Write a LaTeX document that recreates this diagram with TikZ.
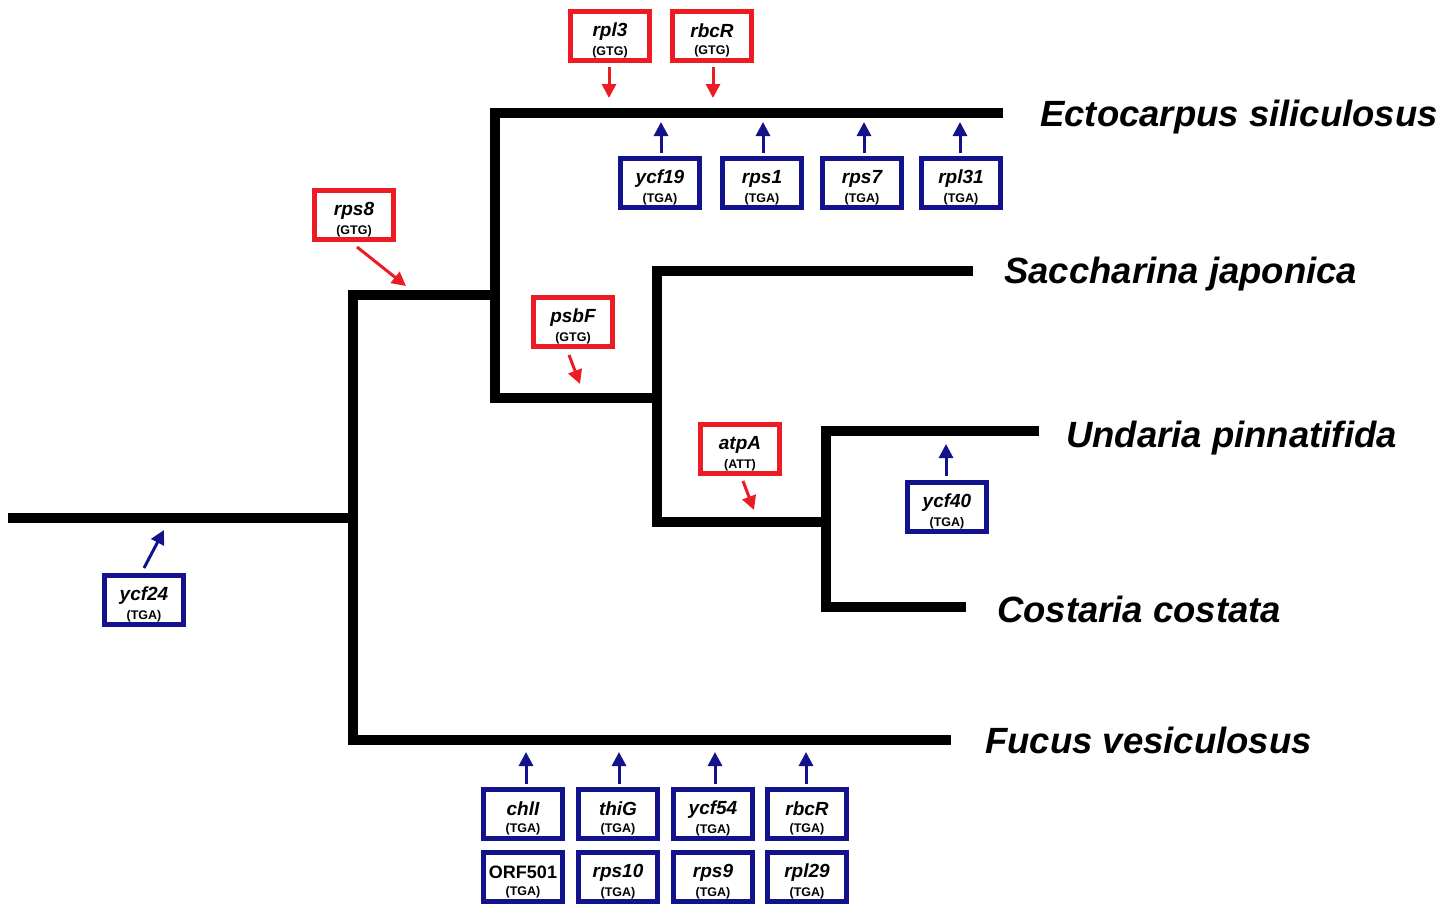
\documentclass[tikz,border=0pt]{standalone}
\usepackage{fontspec}
\setmainfont{Liberation Sans}
\usetikzlibrary{arrows.meta}
\definecolor{gred}{RGB}{237,28,36}
\definecolor{gblue}{RGB}{18,18,140}
\newcommand{\gn}[2]{{\fontsize{19}{18}\selectfont\bfseries\itshape\rule{0pt}{22.5pt}#1}\\[5.5pt]{\fontsize{12.5}{12}\selectfont\bfseries(#2)}}
\newcommand{\gnu}[2]{{\fontsize{18}{18}\selectfont\bfseries\rule{0pt}{22.5pt}#1}\\[5.5pt]{\fontsize{12.5}{12}\selectfont\bfseries(#2)}}
\begin{document}
\begin{tikzpicture}[x=1pt,y=-1pt,
  genebox/.style={draw, line width=4.5pt, minimum width=79pt, minimum height=49pt, inner sep=0pt, align=center, fill=white},
  redbox/.style={genebox, draw=gred},
  bluebox/.style={genebox, draw=gblue},
  branch/.style={line width=10pt, line join=miter},
  redarrow/.style={draw=gred, line width=3pt, -{Triangle[width=14pt,length=14pt]}},
  bluearrow/.style={draw=gblue, line width=3pt, -{Triangle[width=14pt,length=14pt]}},
  species/.style={font=\fontsize{36.5}{40}\selectfont\bfseries\itshape, anchor=base west, inner sep=0pt}]
\useasboundingbox (0,0) rectangle (1456,903);
% tree coordinates
\coordinate (r0) at (8,518);
\coordinate (r1) at (353,518);
\coordinate (a1) at (353,295);
\coordinate (a2) at (495,295);
\coordinate (a3) at (353,740);
\coordinate (fuc) at (951,740);
\coordinate (b1) at (495,113);
\coordinate (ect) at (1003,113);
\coordinate (b2) at (495,398);
\coordinate (b3) at (657,398);
\coordinate (c1) at (657,271);
\coordinate (sac) at (973,271);
\coordinate (c2) at (657,522);
\coordinate (c3) at (826,522);
\coordinate (d1) at (826,431);
\coordinate (und) at (1039,431);
\coordinate (d2) at (826,607);
\coordinate (cos) at (966,607);
\draw[branch] (r0) -- (r1);
\draw[branch] (a2) -- (a1) -- (a3) -- (fuc);
\draw[branch] (ect) -- (b1) -- (b2) -- (b3);
\draw[branch] (sac) -- (c1) -- (c2) -- (c3);
\draw[branch] (und) -- (d1) -- (d2) -- (cos);
% species
\node[species] (tEct) at (1040,126) {Ectocarpus siliculosus};
\node[species] (tSac) at (1004,283) {Saccharina japonica};
\node[species] (tUnd) at (1066,447) {Undaria pinnatifida};
\node[species] (tCos) at (997,622) {Costaria costata};
\node[species] (tFuc) at (985,753) {Fucus vesiculosus};
% red boxes
\node[redbox] (rpl3) at (610,36) {\gn{rpl3}{GTG}};
\node[redbox] (rbcRt) at (712,36) {\gn{rbcR}{GTG}};
\node[redbox] (rps8) at (354,215) {\gn{rps8}{GTG}};
\node[redbox] (psbF) at (573,322) {\gn{psbF}{GTG}};
\node[redbox] (atpA) at (740,449) {\gn{atpA}{ATT}};
% blue boxes
\node[bluebox] (ycf19) at (660,183) {\gn{ycf19}{TGA}};
\node[bluebox] (rps1) at (762,183) {\gn{rps1}{TGA}};
\node[bluebox] (rps7) at (862,183) {\gn{rps7}{TGA}};
\node[bluebox] (rpl31) at (961,183) {\gn{rpl31}{TGA}};
\node[bluebox] (ycf40) at (947,507) {\gn{ycf40}{TGA}};
\node[bluebox] (ycf24) at (144,600) {\gn{ycf24}{TGA}};
\node[bluebox] (chlI) at (523,814) {\gn{chlI}{TGA}};
\node[bluebox] (thiG) at (618,814) {\gn{thiG}{TGA}};
\node[bluebox] (ycf54) at (713,814) {\gn{ycf54}{TGA}};
\node[bluebox] (rbcRb) at (807,814) {\gn{rbcR}{TGA}};
\node[bluebox] (orf) at (523,877) {\gnu{ORF501}{TGA}};
\node[bluebox] (rps10) at (618,877) {\gn{rps10}{TGA}};
\node[bluebox] (rps9) at (713,877) {\gn{rps9}{TGA}};
\node[bluebox] (rpl29) at (807,877) {\gn{rpl29}{TGA}};
% arrow tips
\coordinate (t1) at (609,98);
\coordinate (t2) at (713,98);
\coordinate (t3) at (406,286);
\coordinate (t4) at (580,384);
\coordinate (t5) at (754,510);
\coordinate (s1) at (609,67);
\coordinate (s2) at (713,67);
\coordinate (s3) at (357,247);
\coordinate (s4) at (569,355);
\coordinate (s5) at (743,481);
\draw[redarrow] (s1) -- (t1);
\draw[redarrow] (s2) -- (t2);
\draw[redarrow] (s3) -- (t3);
\draw[redarrow] (s4) -- (t4);
\draw[redarrow] (s5) -- (t5);
\coordinate (u1) at (661,122);
\coordinate (u2) at (763,122);
\coordinate (u3) at (864,122);
\coordinate (u4) at (960,122);
\coordinate (u5) at (946,444);
\coordinate (u6) at (164,530);
\coordinate (u7) at (526,752);
\coordinate (u8) at (619,752);
\coordinate (u9) at (715,752);
\coordinate (u10) at (806,752);
\coordinate (v1) at (661,153);
\coordinate (v2) at (763,153);
\coordinate (v3) at (864,153);
\coordinate (v4) at (960,153);
\coordinate (v5) at (946,476);
\coordinate (v6) at (144,568);
\coordinate (v7) at (526,784);
\coordinate (v8) at (619,784);
\coordinate (v9) at (715,784);
\coordinate (v10) at (806,784);
\foreach \i in {1,...,10} {\draw[bluearrow] (v\i) -- (u\i);}
\end{tikzpicture}
\end{document}
